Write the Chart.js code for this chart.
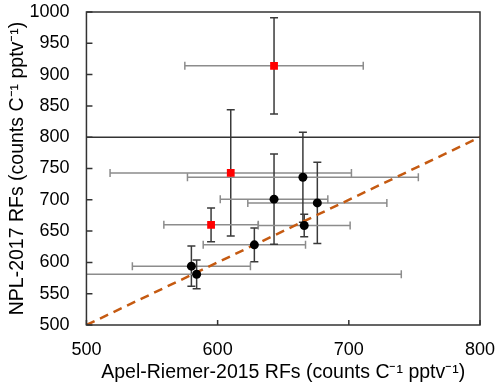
<!DOCTYPE html>
<html>
<head>
<meta charset="utf-8">
<script src="https://cdn.jsdelivr.net/npm/chart.js@4.4.1/dist/chart.umd.min.js"></script>
<style>
  html, body { margin: 0; padding: 0; background: #fff; }
  #wrap { width: 500px; height: 388px; }
</style>
</head>
<body>
<div id="wrap"><canvas id="c" width="500" height="388"></canvas></div>
<script>
// NPL-2017 vs Apel-Riemer-2015 response factors
const redX = [643, 610, 595];
const redY = [914, 743, 660];
const redXErr = [68, 92, 36];
const redYErr = [77, 101, 27];

const blackX = [580, 584, 628, 643, 676, 665, 666];
const blackY = [594, 581, 628, 701, 695, 736, 659];
const blackXErr = [45, 156, 39, 41, 53, 88, 35];
const blackYErr = [32, 23, 27, 72, 65, 72, 18];

const oneToOne = [500, 800];
const refLineY = 800;

const xTicks = [500, 600, 700, 800];
const yTicks = [500, 550, 600, 650, 700, 750, 800, 850, 900, 950, 1000];

const FONT = "'Liberation Sans', Arial, sans-serif";

function pts(xs, ys) {
  return xs.map((x, i) => ({ x: x, y: ys[i] }));
}

// error bars drawn under the markers
const errorBars = {
  id: 'errorBars',
  beforeDatasetsDraw(chart) {
    const { ctx, chartArea: a, scales: { x, y } } = chart;
    ctx.save();
    ctx.beginPath();
    ctx.rect(a.left, a.top, a.right - a.left, a.bottom - a.top);
    ctx.clip();
    chart.data.datasets.forEach(ds => {
      if (!ds.xErr) return;
      ds.data.forEach((p, i) => {
        const px = x.getPixelForValue(p.x), py = y.getPixelForValue(p.y);
        const x0 = x.getPixelForValue(p.x - ds.xErr[i]);
        const x1 = x.getPixelForValue(p.x + ds.xErr[i]);
        const y0 = y.getPixelForValue(p.y - ds.yErr[i]);
        const y1 = y.getPixelForValue(p.y + ds.yErr[i]);
        const cap = 4;
        ctx.lineWidth = 1.5;
        ctx.strokeStyle = '#8c8c8c';
        ctx.beginPath();
        ctx.moveTo(x0, py); ctx.lineTo(x1, py);
        ctx.moveTo(x0, py - cap); ctx.lineTo(x0, py + cap);
        ctx.moveTo(x1, py - cap); ctx.lineTo(x1, py + cap);
        ctx.stroke();
        ctx.strokeStyle = '#3a3a3a';
        ctx.beginPath();
        ctx.moveTo(px, y0); ctx.lineTo(px, y1);
        ctx.moveTo(px - cap, y0); ctx.lineTo(px + cap, y0);
        ctx.moveTo(px - cap, y1); ctx.lineTo(px + cap, y1);
        ctx.stroke();
      });
    });
    ctx.restore();
  }
};

// box frame with inward tick marks
const frame = {
  id: 'frame',
  afterDraw(chart) {
    const { ctx, chartArea: a, scales: { x, y } } = chart;
    ctx.save();
    ctx.strokeStyle = '#333';
    ctx.lineWidth = 1.5;
    ctx.strokeRect(a.left, a.top, a.right - a.left, a.bottom - a.top);
    ctx.beginPath();
    xTicks.forEach(v => {
      const px = x.getPixelForValue(v);
      ctx.moveTo(px, a.bottom); ctx.lineTo(px, a.bottom - 5);
    });
    yTicks.forEach(v => {
      const py = y.getPixelForValue(v);
      ctx.moveTo(a.left, py); ctx.lineTo(a.left + 6, py);
    });
    ctx.stroke();
    ctx.restore();
  }
};

new Chart(document.getElementById('c'), {
  type: 'scatter',
  data: {
    datasets: [
      {
        label: 'red',
        data: pts(redX, redY),
        xErr: redXErr, yErr: redYErr,
        pointStyle: 'rect', pointRadius: 5.5, pointHoverRadius: 5.5,
        backgroundColor: '#ff0000', borderColor: '#ff0000', borderWidth: 0,
        order: 0
      },
      {
        label: 'black',
        data: pts(blackX, blackY),
        xErr: blackXErr, yErr: blackYErr,
        pointStyle: 'circle', pointRadius: 4.5, pointHoverRadius: 4.5,
        backgroundColor: '#000', borderColor: '#000', borderWidth: 0,
        order: 1
      },
      {
        label: '1:1',
        data: pts(oneToOne, oneToOne),
        showLine: true, pointRadius: 0,
        borderColor: '#c55a11', borderWidth: 2.5, borderDash: [9, 6],
        order: 2
      },
      {
        label: 'ref',
        data: pts(oneToOne, [refLineY, refLineY]),
        showLine: true, pointRadius: 0,
        borderColor: '#333', borderWidth: 1.5,
        order: 3
      }
    ]
  },
  options: {
    responsive: false,
    animation: false,
    events: [],
    layout: { padding: { top: 12, right: 20, bottom: 4, left: 0 } },
    plugins: { legend: { display: false }, tooltip: { enabled: false } },
    scales: {
      x: {
        type: 'linear', min: 500, max: 800,
        afterBuildTicks: s => { s.ticks = xTicks.map(v => ({ value: v })); },
        grid: { display: false, drawTicks: true, tickLength: 14 },
        border: { display: false },
        ticks: {
          color: '#000', font: { family: FONT, size: 18 }, padding: 0, maxRotation: 0,
          callback: v => String(v)
        },
        title: {
          display: true,
          text: 'Apel-Riemer-2015 RFs (counts C\u207B\u00B9 pptv\u207B\u00B9)',
          color: '#000', font: { family: FONT, size: 19.5 },
          padding: { top: 0, bottom: 0 }
        }
      },
      y: {
        type: 'linear', min: 500, max: 1000,
        afterBuildTicks: s => { s.ticks = yTicks.map(v => ({ value: v })); },
        grid: { display: false, drawTicks: true, tickLength: 17 },
        border: { display: false },
        ticks: {
          color: '#000', font: { family: FONT, size: 18 }, padding: 0,
          callback: v => String(v)
        },
        title: {
          display: true,
          text: 'NPL-2017 RFs (counts C\u207B\u00B9 pptv\u207B\u00B9)',
          color: '#000', font: { family: FONT, size: 19.5 },
          padding: { top: 6, bottom: 0 }
        }
      }
    }
  },
  plugins: [errorBars, frame]
});
</script>
</body>
</html>
